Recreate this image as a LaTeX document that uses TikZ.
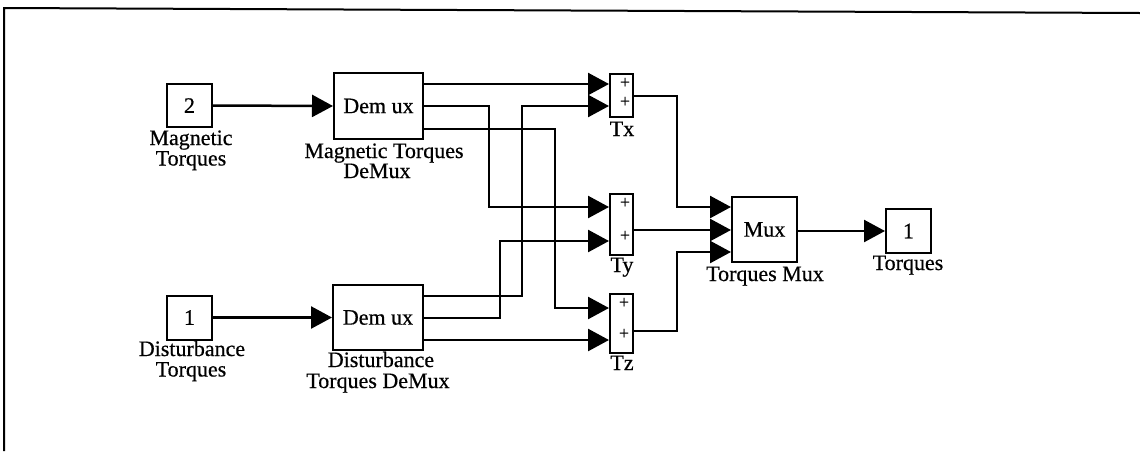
\documentclass[tikz,border=0pt]{standalone}
\usepackage{fontspec}
\setmainfont{Liberation Serif}[FakeBold=0.5]
\usetikzlibrary{arrows.meta}
\begin{document}
\begin{tikzpicture}[x=1pt,y=-1pt,
  blk/.style={draw, line width=2pt, inner sep=0pt, font=\fontsize{22}{20}\selectfont},
  lbl/.style={anchor=base, inner sep=0pt, font=\fontsize{22}{20}\selectfont},
  plus/.style={inner sep=0pt, font=\fontsize{18}{18}\selectfont},
  wire/.style={line width=2.5pt, -{Triangle[length=21pt,width=22pt]}},
  frame/.style={line width=2pt}
  ]
\useasboundingbox (0,0) rectangle (1140,451);
\draw[frame] (4,451) -- (4,8) -- (1140,13);

% blocks
\node[blk, minimum width=45pt, minimum height=43pt] (in2) at (189.5,105.5) {2};
\node[blk, minimum width=89pt, minimum height=66pt] (dmM) at (378.5,106) {Dem ux};
\node[blk, minimum width=45pt, minimum height=44pt] (in1) at (189.5,317.5) {1};
\node[blk, minimum width=90pt, minimum height=65pt] (dmD) at (378,317.5) {Dem ux};
\node[blk, minimum width=23pt, minimum height=43pt] (tx) at (621.5,95.5) {};
\node[blk, minimum width=23pt, minimum height=61pt] (ty) at (621.5,224.5) {};
\node[blk, minimum width=23pt, minimum height=59pt] (tz) at (621.5,323.5) {};
\node[blk, minimum width=65pt, minimum height=65pt] (mux) at (764.5,229.5) {Mux};
\node[blk, minimum width=45pt, minimum height=44pt] (out1) at (908.5,231) {1};

% plus signs
\node[plus] (px1) at (625,83) {+};
\node[plus] (px2) at (625,102) {+};
\node[plus] (py1) at (625,203) {+};
\node[plus] (py2) at (625,236) {+};
\node[plus] (pz1) at (624,303) {+};
\node[plus] (pz2) at (624,334) {+};

% labels
\node[lbl] (l2a) at (191,145) {Magnetic};
\node[lbl] (l2b) at (191,165.5) {Torques};
\node[lbl] (lma) at (384,158) {Magnetic Torques};
\node[lbl] (lmb) at (377,178) {DeMux};
\node[lbl] (l1a) at (192,356) {Disturbance};
\node[lbl] (l1b) at (191,376.5) {Torques};
\node[lbl] (lda) at (381,367) {Disturbance};
\node[lbl] (ldb) at (378,388) {Torques DeMux};
\node[lbl] (ltx) at (622,136) {Tx};
\node[lbl] (lty) at (622,272) {Ty};
\node[lbl] (ltz) at (622,370) {Tz};
\node[lbl] (lmux) at (765,281) {Torques Mux};
\node[lbl] (lout) at (908,270) {Torques};

% wires
\draw[wire] (in2.east) -- (dmM.west);
\draw[wire] (in1.east) -- (dmD.west);
\draw[wire] (dmM.east |- 0,84) -- (tx.west |- 0,84);
\draw[wire] (dmM.east |- 0,106) -- (489,106) |- (ty.west |- 0,207);
\draw[wire] (dmM.east |- 0,129) -- (555,129) |- (tz.west |- 0,308);
\draw[wire] (dmD.east |- 0,296) -- (522,296) |- (tx.west |- 0,106);
\draw[wire] (dmD.east |- 0,318) -- (500,318) |- (ty.west |- 0,241);
\draw[wire] (dmD.east |- 0,340) -- (tz.west |- 0,340);
\draw[wire] (tx.east |- 0,96) -- (677,96) |- (mux.west |- 0,207);
\draw[wire] (ty.east |- 0,230) -- (mux.west |- 0,230);
\draw[wire] (tz.east |- 0,331) -- (677,331) |- (mux.west |- 0,252);
\draw[wire] (mux.east |- 0,231) -- (out1.west |- 0,231);
\end{tikzpicture}
\end{document}
